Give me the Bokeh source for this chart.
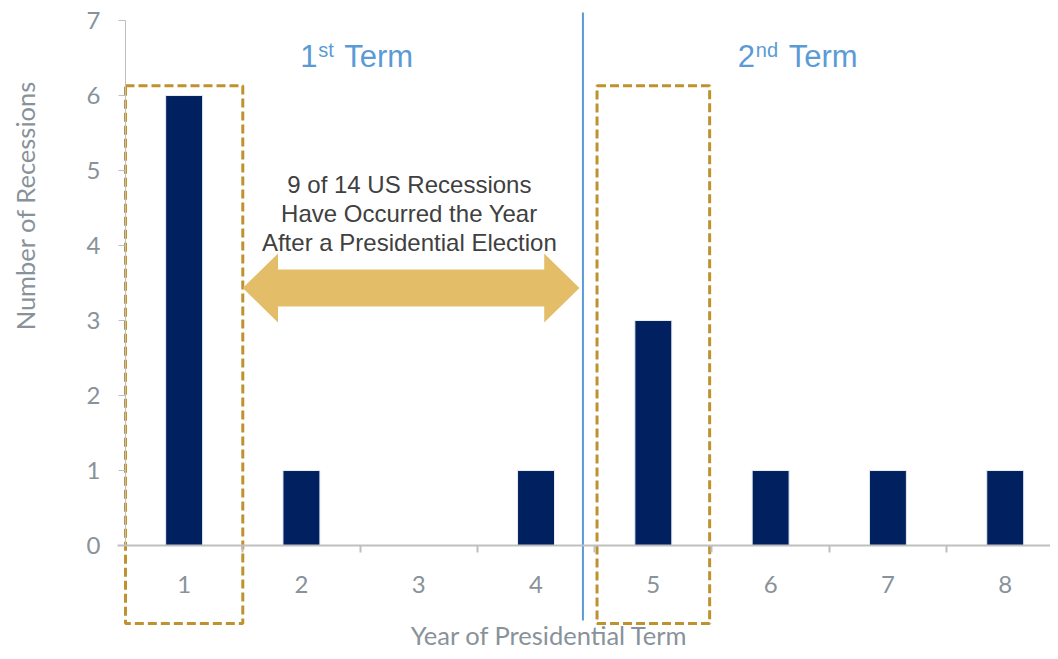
import math
from bokeh.plotting import figure
from bokeh.models import Range1d, LinearAxis, FixedTicker, ColumnDataSource
from bokeh.core.properties import value
from bokeh.embed import file_html
from bokeh.resources import INLINE

# ---- data ----
years = [1, 2, 3, 4, 5, 6, 7, 8]
recessions = [6, 1, 0, 1, 3, 1, 1, 1]
x_tick_labels = ["1", "2", "3", "4", "5", "6", "7", "8"]
y_ticks = [0, 1, 2, 3, 4, 5, 6, 7]
highlight_left = [0.5, 4.52]
highlight_right = [1.5, 5.48]
term_titles = [("1", "st", "Term"), ("2", "nd", "Term")]
term_anchor_x = [1.99, 5.72]
note_text = "9 of 14 US Recessions\nHave Occurred the Year\nAfter a Presidential Election"
x_title = "Year of Presidential Term"
y_title = "Number of Recessions"

# ---- styles ----
NAVY = "#002060"
GOLD = "#BF9230"
ARROW = "#E3BD67"
BLUE = "#5B9BD5"
AXIS_GREY = "#BFBFBF"
LABEL_GREY = "#88929A"
TICK_FONT = "Lato"
ANNOT_FONT = "Liberation Sans"

p = figure(width=1050, height=651, output_backend="svg", toolbar_location=None,
           x_range=Range1d(-0.5656, 8.386), y_range=Range1d(-1.413, 7.267),
           min_border_left=0, min_border_right=0, min_border_top=0, min_border_bottom=0,
           x_axis_type=None, y_axis_type=None)
p.outline_line_color = None
p.grid.visible = False
p.background_fill_color = "white"
p.border_fill_color = "white"

# y axis (drawn at the left edge of the category band)
yax = LinearAxis(ticker=FixedTicker(ticks=y_ticks), bounds=(0, 7), fixed_location=0.5)
yax.major_label_text_font = TICK_FONT
yax.major_label_text_font_size = "24px"
yax.major_label_text_color = LABEL_GREY
yax.major_label_standoff = 18
yax.axis_line_color = AXIS_GREY
yax.major_tick_line_color = AXIS_GREY
yax.major_tick_out = 7
yax.major_tick_in = 0
yax.minor_tick_line_color = None
p.add_layout(yax, "left")

# x axis at y=0 : labels at categories, minor ticks at category boundaries
xax = LinearAxis(ticker=FixedTicker(ticks=years, minor_ticks=[y + 0.5 for y in years]),
                 fixed_location=0, bounds=(0.43, 8.386))
xax.major_label_overrides = {y: t for y, t in zip(years, x_tick_labels)}
xax.axis_line_color = AXIS_GREY
xax.axis_line_width = 2
xax.major_tick_line_color = None
xax.minor_tick_line_color = AXIS_GREY
xax.minor_tick_line_width = 2
xax.minor_tick_out = 7
xax.minor_tick_in = 0
xax.major_label_text_font = TICK_FONT
xax.major_label_text_font_size = "24px"
xax.major_label_text_color = LABEL_GREY
xax.major_label_standoff = 23
p.add_layout(xax, "below")

# axis titles
p.text(x=[4.115], y=[-1.19], text=[x_title], text_align="center", text_baseline="middle",
       text_font=value(TICK_FONT), text_font_size="25.5px", text_color=LABEL_GREY)
p.text(x=[-0.3525], y=[4.533], text=[y_title], angle=math.pi / 2,
       text_align="center", text_baseline="middle",
       text_font=value(TICK_FONT), text_font_size="25.5px", text_color=LABEL_GREY)

# bars
src = ColumnDataSource(dict(x=years, top=recessions))
p.vbar(x="x", top="top", bottom=0, width=0.315, source=src,
       fill_color=NAVY, line_color="#E8ECF2", line_width=1)

# dashed highlight boxes
p.quad(left=highlight_left, right=highlight_right, top=6.13, bottom=-1.04,
       fill_color=None, line_color=GOLD, line_width=3, line_dash="9 4")

# term divider
p.segment(x0=[4.4], y0=[-1.0], x1=[4.4], y1=[7.107], line_color=BLUE, line_width=2)

# double-headed arrow
ax0, ax1, ayc = 1.5, 4.37, 3.433
shaft, head, hlen = 0.247, 0.46, 0.3
arrow_x = [ax0, ax0 + hlen, ax0 + hlen, ax1 - hlen, ax1 - hlen, ax1,
           ax1 - hlen, ax1 - hlen, ax0 + hlen, ax0 + hlen]
arrow_y = [ayc, ayc + head, ayc + shaft, ayc + shaft, ayc + head, ayc,
           ayc - head, ayc - shaft, ayc - shaft, ayc - head]
p.patch(arrow_x, arrow_y, fill_color=ARROW, line_color=None)

# note text
p.text(x=[2.92], y=[4.427], text=[note_text], text_align="center", text_baseline="middle",
       text_font=value(ANNOT_FONT), text_font_size="24px", text_color="#404040",
       text_line_height=1.08)

# term titles
term_y = 6.527
small_off = [18, 18]
term_off = [44, 51]
for (big, sup, rest), ax, so, to in zip(term_titles, term_anchor_x, small_off, term_off):
    p.text(x=[ax], y=[term_y], text=[big], text_align="left", text_baseline="middle",
           text_font=value(ANNOT_FONT), text_font_size="31px", text_color=BLUE)
    p.text(x=[ax], y=[term_y], text=[sup], text_align="left", text_baseline="middle",
           x_offset=so, y_offset=-6,
           text_font=value(ANNOT_FONT), text_font_size="20px", text_color=BLUE)
    p.text(x=[ax], y=[term_y], text=[rest], text_align="left", text_baseline="middle",
           x_offset=to,
           text_font=value(ANNOT_FONT), text_font_size="31px", text_color=BLUE)

open("out.html", "w").write(file_html(p, INLINE))
